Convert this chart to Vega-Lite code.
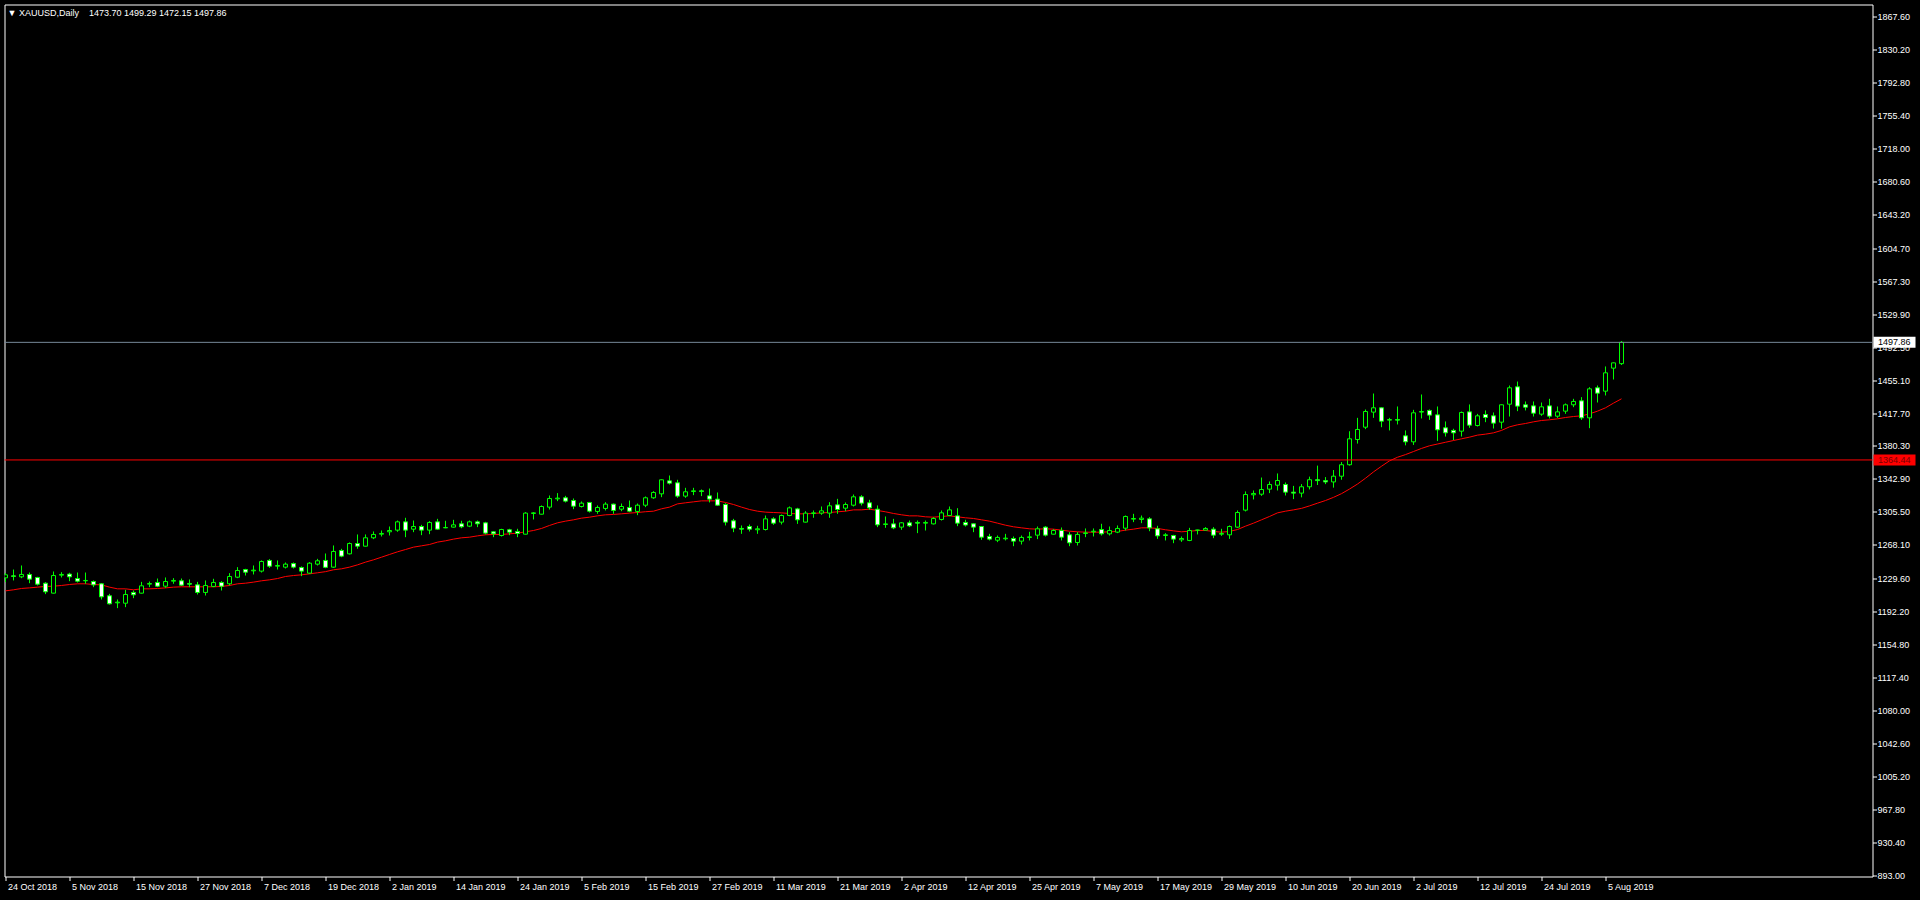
{
"$schema": "https://vega.github.io/schema/vega-lite/v6.json",
"width": 1868, "height": 872,
"autosize": {"type": "none"},
"padding": {"left": 4.5, "top": 4.5, "right": 47.5, "bottom": 23.5},
"background": "black",
"title": {"text": "▼\u00a0XAUUSD,Daily\u00a0\u00a0\u00a0\u00a01473.70 1499.29 1472.15 1497.86", "anchor": "start", "frame": "group", "orient": "top", "offset": -8, "dy": 9, "baseline": "middle", "dx": 3, "fontSize": 9, "fontWeight": "normal", "color": "white", "font": "Liberation Sans"},
"datasets": {
"levels": [{"name": "Bid", "price": 1497.86}, {"name": "Line", "price": 1364.44}],
"bars": [
{"date":"2018-10-24","idx":0,"open":1230.7,"high":1236.0,"low":1225.8,"close":1234.1,"ma":1215.9},
{"date":"2018-10-25","idx":1,"open":1232.9,"high":1240.1,"low":1227.7,"close":1232.3,"ma":1217.1},
{"date":"2018-10-26","idx":2,"open":1231.8,"high":1244.7,"low":1230.3,"close":1234.5,"ma":1218.6},
{"date":"2018-10-29","idx":3,"open":1234.5,"high":1236.7,"low":1224.6,"close":1229.2,"ma":1219.3},
{"date":"2018-10-30","idx":4,"open":1231.1,"high":1231.8,"low":1222.0,"close":1223.5,"ma":1220.1},
{"date":"2018-10-31","idx":5,"open":1224.6,"high":1225.8,"low":1212.2,"close":1214.8,"ma":1220.9},
{"date":"2018-11-01","idx":6,"open":1213.3,"high":1237.9,"low":1212.9,"close":1233.3,"ma":1221.2},
{"date":"2018-11-02","idx":7,"open":1233.7,"high":1237.1,"low":1231.1,"close":1234.5,"ma":1222.0},
{"date":"2018-11-05","idx":8,"open":1234.9,"high":1236.4,"low":1226.9,"close":1231.8,"ma":1223.1},
{"date":"2018-11-06","idx":9,"open":1229.9,"high":1236.7,"low":1225.4,"close":1226.9,"ma":1223.9},
{"date":"2018-11-07","idx":10,"open":1227.3,"high":1236.7,"low":1223.9,"close":1227.7,"ma":1223.9},
{"date":"2018-11-08","idx":11,"open":1226.5,"high":1227.7,"low":1220.1,"close":1222.7,"ma":1223.1},
{"date":"2018-11-09","idx":12,"open":1223.9,"high":1224.6,"low":1206.1,"close":1209.1,"ma":1222.7},
{"date":"2018-11-12","idx":13,"open":1210.3,"high":1212.5,"low":1200.4,"close":1201.2,"ma":1220.1},
{"date":"2018-11-13","idx":14,"open":1202.3,"high":1206.1,"low":1196.3,"close":1203.1,"ma":1218.2},
{"date":"2018-11-14","idx":15,"open":1201.9,"high":1217.1,"low":1197.4,"close":1211.8,"ma":1218.2},
{"date":"2018-11-15","idx":16,"open":1214.1,"high":1216.3,"low":1207.6,"close":1211.4,"ma":1217.1},
{"date":"2018-11-16","idx":17,"open":1213.3,"high":1226.1,"low":1212.9,"close":1221.6,"ma":1218.2},
{"date":"2018-11-19","idx":18,"open":1223.5,"high":1226.5,"low":1220.1,"close":1224.3,"ma":1218.2},
{"date":"2018-11-20","idx":19,"open":1225.4,"high":1229.9,"low":1220.1,"close":1221.2,"ma":1218.6},
{"date":"2018-11-21","idx":20,"open":1221.2,"high":1231.1,"low":1219.3,"close":1226.5,"ma":1219.3},
{"date":"2018-11-22","idx":21,"open":1226.9,"high":1230.3,"low":1223.9,"close":1227.7,"ma":1220.1},
{"date":"2018-11-23","idx":22,"open":1227.3,"high":1229.9,"low":1221.6,"close":1222.4,"ma":1220.5},
{"date":"2018-11-26","idx":23,"open":1224.3,"high":1228.8,"low":1220.1,"close":1223.5,"ma":1220.5},
{"date":"2018-11-27","idx":24,"open":1222.7,"high":1226.1,"low":1211.8,"close":1214.1,"ma":1220.5},
{"date":"2018-11-28","idx":25,"open":1214.1,"high":1227.7,"low":1210.6,"close":1222.0,"ma":1220.5},
{"date":"2018-11-29","idx":26,"open":1220.9,"high":1229.6,"low":1220.1,"close":1225.4,"ma":1220.5},
{"date":"2018-11-30","idx":27,"open":1225.4,"high":1226.9,"low":1216.3,"close":1221.2,"ma":1220.9},
{"date":"2018-12-03","idx":28,"open":1223.9,"high":1236.0,"low":1222.0,"close":1232.2,"ma":1222.0},
{"date":"2018-12-04","idx":29,"open":1231.4,"high":1242.8,"low":1230.3,"close":1239.0,"ma":1223.9},
{"date":"2018-12-05","idx":30,"open":1240.1,"high":1240.9,"low":1233.3,"close":1237.1,"ma":1224.6},
{"date":"2018-12-06","idx":31,"open":1238.6,"high":1244.7,"low":1234.5,"close":1239.4,"ma":1225.8},
{"date":"2018-12-07","idx":32,"open":1238.3,"high":1250.4,"low":1236.7,"close":1249.2,"ma":1227.3},
{"date":"2018-12-10","idx":33,"open":1250.4,"high":1251.9,"low":1242.0,"close":1243.9,"ma":1228.4},
{"date":"2018-12-11","idx":34,"open":1243.9,"high":1250.4,"low":1240.1,"close":1244.7,"ma":1229.9},
{"date":"2018-12-12","idx":35,"open":1242.8,"high":1248.1,"low":1241.3,"close":1246.2,"ma":1232.2},
{"date":"2018-12-13","idx":36,"open":1246.9,"high":1248.1,"low":1241.3,"close":1242.8,"ma":1233.3},
{"date":"2018-12-14","idx":37,"open":1242.4,"high":1243.6,"low":1232.6,"close":1238.3,"ma":1234.1},
{"date":"2018-12-17","idx":38,"open":1236.0,"high":1248.5,"low":1235.2,"close":1247.3,"ma":1235.2},
{"date":"2018-12-18","idx":39,"open":1246.2,"high":1252.2,"low":1244.7,"close":1250.0,"ma":1236.4},
{"date":"2018-12-19","idx":40,"open":1250.4,"high":1258.3,"low":1241.6,"close":1242.6,"ma":1237.7},
{"date":"2018-12-20","idx":41,"open":1242.8,"high":1267.4,"low":1242.0,"close":1260.6,"ma":1239.8},
{"date":"2018-12-21","idx":42,"open":1261.7,"high":1263.6,"low":1254.1,"close":1255.3,"ma":1240.9},
{"date":"2018-12-24","idx":43,"open":1257.9,"high":1270.8,"low":1257.2,"close":1269.6,"ma":1242.8},
{"date":"2018-12-26","idx":44,"open":1269.6,"high":1279.9,"low":1263.6,"close":1266.6,"ma":1245.4},
{"date":"2018-12-27","idx":45,"open":1266.6,"high":1279.9,"low":1266.2,"close":1276.1,"ma":1248.5},
{"date":"2018-12-28","idx":46,"open":1276.1,"high":1283.3,"low":1274.6,"close":1279.9,"ma":1251.1},
{"date":"2018-12-31","idx":47,"open":1280.2,"high":1284.4,"low":1277.6,"close":1281.0,"ma":1254.1},
{"date":"2019-01-02","idx":48,"open":1282.9,"high":1288.9,"low":1278.7,"close":1284.4,"ma":1257.2},
{"date":"2019-01-03","idx":49,"open":1284.8,"high":1295.7,"low":1282.9,"close":1294.2,"ma":1260.2},
{"date":"2019-01-04","idx":50,"open":1294.2,"high":1298.8,"low":1276.8,"close":1284.8,"ma":1262.8},
{"date":"2019-01-07","idx":51,"open":1285.9,"high":1295.7,"low":1282.5,"close":1288.9,"ma":1265.5},
{"date":"2019-01-08","idx":52,"open":1288.9,"high":1290.8,"low":1279.1,"close":1284.8,"ma":1267.0},
{"date":"2019-01-09","idx":53,"open":1284.8,"high":1295.0,"low":1280.2,"close":1293.5,"ma":1268.5},
{"date":"2019-01-10","idx":54,"open":1294.2,"high":1297.6,"low":1285.2,"close":1285.9,"ma":1271.2},
{"date":"2019-01-11","idx":55,"open":1287.4,"high":1295.4,"low":1287.0,"close":1287.8,"ma":1272.7},
{"date":"2019-01-14","idx":56,"open":1288.2,"high":1296.5,"low":1287.8,"close":1290.8,"ma":1274.6},
{"date":"2019-01-15","idx":57,"open":1292.0,"high":1295.4,"low":1287.0,"close":1288.6,"ma":1276.1},
{"date":"2019-01-16","idx":58,"open":1289.3,"high":1295.7,"low":1288.2,"close":1294.2,"ma":1276.8},
{"date":"2019-01-17","idx":59,"open":1294.2,"high":1295.7,"low":1288.2,"close":1292.0,"ma":1278.3},
{"date":"2019-01-18","idx":60,"open":1293.1,"high":1294.2,"low":1279.9,"close":1281.4,"ma":1279.5},
{"date":"2019-01-21","idx":61,"open":1282.9,"high":1283.6,"low":1276.8,"close":1280.6,"ma":1279.9},
{"date":"2019-01-22","idx":62,"open":1278.7,"high":1286.3,"low":1277.6,"close":1285.5,"ma":1279.9},
{"date":"2019-01-23","idx":63,"open":1285.2,"high":1286.3,"low":1279.1,"close":1282.5,"ma":1280.6},
{"date":"2019-01-24","idx":64,"open":1283.3,"high":1286.3,"low":1276.8,"close":1281.0,"ma":1281.4},
{"date":"2019-01-25","idx":65,"open":1280.2,"high":1305.2,"low":1279.9,"close":1304.1,"ma":1282.9},
{"date":"2019-01-28","idx":66,"open":1303.7,"high":1305.2,"low":1296.9,"close":1304.4,"ma":1284.4},
{"date":"2019-01-29","idx":67,"open":1302.9,"high":1312.8,"low":1302.6,"close":1311.6,"ma":1286.7},
{"date":"2019-01-30","idx":68,"open":1310.9,"high":1324.1,"low":1308.2,"close":1320.7,"ma":1290.1},
{"date":"2019-01-31","idx":69,"open":1320.3,"high":1326.8,"low":1317.7,"close":1321.1,"ma":1293.1},
{"date":"2019-02-01","idx":70,"open":1321.5,"high":1323.7,"low":1316.2,"close":1317.7,"ma":1295.0},
{"date":"2019-02-04","idx":71,"open":1318.4,"high":1320.7,"low":1308.6,"close":1312.0,"ma":1296.5},
{"date":"2019-02-05","idx":72,"open":1311.6,"high":1317.3,"low":1310.5,"close":1315.4,"ma":1298.4},
{"date":"2019-02-06","idx":73,"open":1316.2,"high":1316.5,"low":1304.8,"close":1306.3,"ma":1299.5},
{"date":"2019-02-07","idx":74,"open":1306.0,"high":1312.8,"low":1303.3,"close":1310.5,"ma":1301.0},
{"date":"2019-02-08","idx":75,"open":1309.4,"high":1316.5,"low":1307.1,"close":1314.3,"ma":1302.2},
{"date":"2019-02-11","idx":76,"open":1314.3,"high":1315.0,"low":1303.3,"close":1307.1,"ma":1302.6},
{"date":"2019-02-12","idx":77,"open":1308.6,"high":1315.0,"low":1306.3,"close":1311.6,"ma":1303.3},
{"date":"2019-02-13","idx":78,"open":1310.5,"high":1318.4,"low":1305.2,"close":1306.3,"ma":1304.1},
{"date":"2019-02-14","idx":79,"open":1306.0,"high":1315.0,"low":1301.8,"close":1313.1,"ma":1304.8},
{"date":"2019-02-15","idx":80,"open":1313.1,"high":1323.0,"low":1310.9,"close":1321.5,"ma":1305.7},
{"date":"2019-02-18","idx":81,"open":1321.5,"high":1329.0,"low":1320.3,"close":1327.5,"ma":1306.3},
{"date":"2019-02-19","idx":82,"open":1326.0,"high":1342.3,"low":1322.2,"close":1341.9,"ma":1309.0},
{"date":"2019-02-20","idx":83,"open":1340.7,"high":1346.8,"low":1336.6,"close":1338.1,"ma":1310.9},
{"date":"2019-02-21","idx":84,"open":1338.5,"high":1341.9,"low":1321.5,"close":1323.4,"ma":1314.6},
{"date":"2019-02-22","idx":85,"open":1323.4,"high":1332.8,"low":1321.5,"close":1328.3,"ma":1315.8},
{"date":"2019-02-25","idx":86,"open":1328.6,"high":1332.8,"low":1324.5,"close":1329.4,"ma":1316.9},
{"date":"2019-02-26","idx":87,"open":1329.4,"high":1330.9,"low":1323.4,"close":1328.6,"ma":1318.0},
{"date":"2019-02-27","idx":88,"open":1323.7,"high":1332.0,"low":1316.2,"close":1320.0,"ma":1318.0},
{"date":"2019-02-28","idx":89,"open":1320.0,"high":1327.5,"low":1312.4,"close":1313.1,"ma":1318.0},
{"date":"2019-03-01","idx":90,"open":1313.9,"high":1315.4,"low":1290.1,"close":1293.9,"ma":1316.2},
{"date":"2019-03-04","idx":91,"open":1295.4,"high":1297.6,"low":1282.5,"close":1287.1,"ma":1313.9},
{"date":"2019-03-05","idx":92,"open":1286.7,"high":1290.1,"low":1280.6,"close":1285.9,"ma":1310.9},
{"date":"2019-03-06","idx":93,"open":1288.9,"high":1291.2,"low":1283.3,"close":1285.9,"ma":1308.2},
{"date":"2019-03-07","idx":94,"open":1285.2,"high":1289.7,"low":1280.6,"close":1286.3,"ma":1306.3},
{"date":"2019-03-08","idx":95,"open":1285.5,"high":1301.4,"low":1284.4,"close":1297.6,"ma":1305.2},
{"date":"2019-03-11","idx":96,"open":1297.6,"high":1299.5,"low":1290.8,"close":1292.7,"ma":1304.8},
{"date":"2019-03-12","idx":97,"open":1293.9,"high":1302.5,"low":1291.2,"close":1301.4,"ma":1304.4},
{"date":"2019-03-13","idx":98,"open":1301.4,"high":1311.6,"low":1300.6,"close":1310.1,"ma":1303.7},
{"date":"2019-03-14","idx":99,"open":1308.9,"high":1310.1,"low":1291.9,"close":1296.5,"ma":1303.3},
{"date":"2019-03-15","idx":100,"open":1293.9,"high":1306.3,"low":1293.5,"close":1304.1,"ma":1303.3},
{"date":"2019-03-18","idx":101,"open":1303.7,"high":1307.1,"low":1298.8,"close":1304.4,"ma":1303.7},
{"date":"2019-03-19","idx":102,"open":1304.1,"high":1311.6,"low":1302.2,"close":1306.7,"ma":1304.4},
{"date":"2019-03-20","idx":103,"open":1304.1,"high":1316.5,"low":1298.8,"close":1312.4,"ma":1304.8},
{"date":"2019-03-21","idx":104,"open":1313.5,"high":1320.3,"low":1303.3,"close":1308.2,"ma":1305.6},
{"date":"2019-03-22","idx":105,"open":1309.7,"high":1316.2,"low":1306.3,"close":1313.9,"ma":1306.3},
{"date":"2019-03-25","idx":106,"open":1313.1,"high":1325.2,"low":1311.6,"close":1322.6,"ma":1307.8},
{"date":"2019-03-26","idx":107,"open":1322.6,"high":1324.5,"low":1312.8,"close":1315.4,"ma":1307.8},
{"date":"2019-03-27","idx":108,"open":1315.8,"high":1319.2,"low":1307.8,"close":1310.1,"ma":1308.6},
{"date":"2019-03-28","idx":109,"open":1308.6,"high":1312.8,"low":1288.2,"close":1290.8,"ma":1307.1},
{"date":"2019-03-29","idx":110,"open":1291.2,"high":1300.3,"low":1287.4,"close":1291.9,"ma":1305.6},
{"date":"2019-04-01","idx":111,"open":1291.9,"high":1297.6,"low":1285.9,"close":1287.4,"ma":1303.7},
{"date":"2019-04-02","idx":112,"open":1288.2,"high":1293.9,"low":1285.2,"close":1293.1,"ma":1302.2},
{"date":"2019-04-03","idx":113,"open":1293.1,"high":1295.7,"low":1288.2,"close":1289.7,"ma":1301.0},
{"date":"2019-04-04","idx":114,"open":1293.5,"high":1295.7,"low":1281.4,"close":1292.7,"ma":1301.0},
{"date":"2019-04-05","idx":115,"open":1292.7,"high":1295.7,"low":1284.4,"close":1293.5,"ma":1299.9},
{"date":"2019-04-08","idx":116,"open":1291.9,"high":1299.5,"low":1291.2,"close":1298.0,"ma":1299.5},
{"date":"2019-04-09","idx":117,"open":1296.9,"high":1307.1,"low":1295.7,"close":1304.4,"ma":1300.3},
{"date":"2019-04-10","idx":118,"open":1301.4,"high":1311.6,"low":1300.6,"close":1307.8,"ma":1301.0},
{"date":"2019-04-11","idx":119,"open":1301.0,"high":1309.7,"low":1289.3,"close":1292.7,"ma":1299.9},
{"date":"2019-04-12","idx":120,"open":1293.5,"high":1296.5,"low":1288.9,"close":1290.6,"ma":1298.8},
{"date":"2019-04-15","idx":121,"open":1292.0,"high":1292.4,"low":1282.5,"close":1288.2,"ma":1298.0},
{"date":"2019-04-16","idx":122,"open":1288.9,"high":1289.3,"low":1273.8,"close":1276.8,"ma":1296.5},
{"date":"2019-04-17","idx":123,"open":1277.6,"high":1280.6,"low":1273.1,"close":1274.6,"ma":1295.0},
{"date":"2019-04-18","idx":124,"open":1273.4,"high":1278.7,"low":1271.2,"close":1276.5,"ma":1292.7},
{"date":"2019-04-22","idx":125,"open":1275.0,"high":1280.6,"low":1273.1,"close":1275.7,"ma":1290.4},
{"date":"2019-04-23","idx":126,"open":1275.3,"high":1277.6,"low":1266.6,"close":1272.3,"ma":1288.6},
{"date":"2019-04-24","idx":127,"open":1272.3,"high":1278.7,"low":1268.5,"close":1276.5,"ma":1287.4},
{"date":"2019-04-25","idx":128,"open":1276.5,"high":1282.9,"low":1273.1,"close":1277.2,"ma":1286.3},
{"date":"2019-04-26","idx":129,"open":1279.1,"high":1288.9,"low":1274.6,"close":1286.3,"ma":1285.9},
{"date":"2019-04-29","idx":130,"open":1288.2,"high":1289.3,"low":1277.6,"close":1279.1,"ma":1286.3},
{"date":"2019-04-30","idx":131,"open":1280.2,"high":1285.9,"low":1279.9,"close":1284.4,"ma":1285.9},
{"date":"2019-05-01","idx":132,"open":1284.4,"high":1287.8,"low":1273.1,"close":1276.8,"ma":1284.8},
{"date":"2019-05-02","idx":133,"open":1279.5,"high":1282.5,"low":1266.6,"close":1270.4,"ma":1283.6},
{"date":"2019-05-03","idx":134,"open":1270.8,"high":1282.5,"low":1267.4,"close":1279.9,"ma":1282.9},
{"date":"2019-05-06","idx":135,"open":1281.0,"high":1286.7,"low":1276.8,"close":1281.7,"ma":1282.5},
{"date":"2019-05-07","idx":136,"open":1282.9,"high":1286.7,"low":1277.6,"close":1283.6,"ma":1282.5},
{"date":"2019-05-08","idx":137,"open":1285.5,"high":1292.0,"low":1278.7,"close":1280.6,"ma":1282.5},
{"date":"2019-05-09","idx":138,"open":1280.6,"high":1288.9,"low":1278.7,"close":1284.4,"ma":1282.9},
{"date":"2019-05-10","idx":139,"open":1282.5,"high":1290.1,"low":1281.4,"close":1286.7,"ma":1283.3},
{"date":"2019-05-13","idx":140,"open":1287.0,"high":1301.4,"low":1284.4,"close":1300.3,"ma":1284.8},
{"date":"2019-05-14","idx":141,"open":1297.3,"high":1303.3,"low":1293.9,"close":1298.0,"ma":1285.9},
{"date":"2019-05-15","idx":142,"open":1296.9,"high":1301.4,"low":1292.7,"close":1298.4,"ma":1287.4},
{"date":"2019-05-16","idx":143,"open":1297.6,"high":1299.5,"low":1283.6,"close":1287.4,"ma":1287.4},
{"date":"2019-05-17","idx":144,"open":1286.3,"high":1289.7,"low":1274.9,"close":1278.3,"ma":1286.7},
{"date":"2019-05-20","idx":145,"open":1278.7,"high":1281.4,"low":1273.1,"close":1279.5,"ma":1285.2},
{"date":"2019-05-21","idx":146,"open":1278.7,"high":1279.5,"low":1270.0,"close":1274.6,"ma":1284.0},
{"date":"2019-05-22","idx":147,"open":1273.8,"high":1277.6,"low":1271.5,"close":1275.3,"ma":1282.9},
{"date":"2019-05-23","idx":148,"open":1273.1,"high":1287.4,"low":1272.3,"close":1284.4,"ma":1283.6},
{"date":"2019-05-24","idx":149,"open":1284.8,"high":1285.2,"low":1279.9,"close":1284.8,"ma":1284.4},
{"date":"2019-05-27","idx":150,"open":1284.8,"high":1288.2,"low":1284.4,"close":1286.7,"ma":1284.4},
{"date":"2019-05-28","idx":151,"open":1285.9,"high":1288.2,"low":1275.7,"close":1279.1,"ma":1283.3},
{"date":"2019-05-29","idx":152,"open":1280.2,"high":1286.3,"low":1278.3,"close":1281.0,"ma":1282.5},
{"date":"2019-05-30","idx":153,"open":1279.5,"high":1290.1,"low":1274.9,"close":1288.9,"ma":1283.3},
{"date":"2019-05-31","idx":154,"open":1288.2,"high":1307.1,"low":1287.4,"close":1304.8,"ma":1285.5},
{"date":"2019-06-03","idx":155,"open":1307.5,"high":1328.7,"low":1306.0,"close":1325.2,"ma":1289.3},
{"date":"2019-06-04","idx":156,"open":1324.9,"high":1329.8,"low":1319.6,"close":1326.4,"ma":1292.7},
{"date":"2019-06-05","idx":157,"open":1325.6,"high":1344.5,"low":1323.7,"close":1330.9,"ma":1296.5},
{"date":"2019-06-06","idx":158,"open":1331.3,"high":1340.0,"low":1326.8,"close":1336.6,"ma":1300.3},
{"date":"2019-06-07","idx":159,"open":1335.8,"high":1349.1,"low":1329.8,"close":1341.1,"ma":1304.4},
{"date":"2019-06-10","idx":160,"open":1336.6,"high":1338.9,"low":1324.1,"close":1327.9,"ma":1306.3},
{"date":"2019-06-11","idx":161,"open":1327.9,"high":1335.0,"low":1320.0,"close":1326.8,"ma":1307.8},
{"date":"2019-06-12","idx":162,"open":1326.8,"high":1337.0,"low":1322.0,"close":1334.0,"ma":1309.5},
{"date":"2019-06-13","idx":163,"open":1334.0,"high":1345.5,"low":1331.0,"close":1342.0,"ma":1312.3},
{"date":"2019-06-14","idx":164,"open":1342.0,"high":1358.0,"low":1336.0,"close":1341.0,"ma":1315.4},
{"date":"2019-06-17","idx":165,"open":1341.0,"high":1345.0,"low":1337.0,"close":1339.5,"ma":1318.4},
{"date":"2019-06-18","idx":166,"open":1339.5,"high":1353.0,"low":1333.0,"close":1346.0,"ma":1322.0},
{"date":"2019-06-19","idx":167,"open":1346.0,"high":1362.0,"low":1342.0,"close":1359.0,"ma":1326.2},
{"date":"2019-06-20","idx":168,"open":1359.0,"high":1397.0,"low":1358.0,"close":1388.4,"ma":1331.4},
{"date":"2019-06-21","idx":169,"open":1387.6,"high":1412.2,"low":1383.0,"close":1399.0,"ma":1337.1},
{"date":"2019-06-24","idx":170,"open":1401.6,"high":1421.7,"low":1399.4,"close":1419.4,"ma":1343.7},
{"date":"2019-06-25","idx":171,"open":1418.7,"high":1439.8,"low":1412.2,"close":1423.6,"ma":1350.9},
{"date":"2019-06-26","idx":172,"open":1423.6,"high":1424.0,"low":1401.6,"close":1408.4,"ma":1357.3},
{"date":"2019-06-27","idx":173,"open":1409.6,"high":1412.2,"low":1397.9,"close":1410.3,"ma":1363.4},
{"date":"2019-06-28","idx":174,"open":1410.3,"high":1425.1,"low":1404.7,"close":1409.6,"ma":1367.5},
{"date":"2019-07-01","idx":175,"open":1391.8,"high":1397.9,"low":1381.0,"close":1385.0,"ma":1370.5},
{"date":"2019-07-02","idx":176,"open":1385.0,"high":1421.3,"low":1381.5,"close":1417.9,"ma":1374.0},
{"date":"2019-07-03","idx":177,"open":1418.7,"high":1438.7,"low":1411.5,"close":1419.4,"ma":1377.5},
{"date":"2019-07-04","idx":178,"open":1420.6,"high":1421.7,"low":1409.9,"close":1415.3,"ma":1380.5},
{"date":"2019-07-05","idx":179,"open":1415.6,"high":1425.1,"low":1386.0,"close":1398.6,"ma":1382.5},
{"date":"2019-07-08","idx":180,"open":1400.9,"high":1408.1,"low":1391.0,"close":1395.2,"ma":1384.5},
{"date":"2019-07-09","idx":181,"open":1397.9,"high":1399.8,"low":1387.0,"close":1395.2,"ma":1386.5},
{"date":"2019-07-10","idx":182,"open":1397.1,"high":1419.4,"low":1391.0,"close":1418.3,"ma":1388.4},
{"date":"2019-07-11","idx":183,"open":1419.0,"high":1427.4,"low":1400.9,"close":1403.9,"ma":1390.3},
{"date":"2019-07-12","idx":184,"open":1403.5,"high":1416.7,"low":1402.4,"close":1414.5,"ma":1392.6},
{"date":"2019-07-15","idx":185,"open":1416.0,"high":1420.6,"low":1407.3,"close":1412.6,"ma":1393.7},
{"date":"2019-07-16","idx":186,"open":1414.5,"high":1418.3,"low":1400.1,"close":1406.2,"ma":1395.2},
{"date":"2019-07-17","idx":187,"open":1407.3,"high":1427.4,"low":1400.0,"close":1427.0,"ma":1397.9},
{"date":"2019-07-18","idx":188,"open":1427.7,"high":1448.9,"low":1413.7,"close":1446.3,"ma":1402.0},
{"date":"2019-07-19","idx":189,"open":1447.4,"high":1453.4,"low":1419.8,"close":1425.5,"ma":1404.3},
{"date":"2019-07-22","idx":190,"open":1427.0,"high":1430.8,"low":1420.6,"close":1424.3,"ma":1405.8},
{"date":"2019-07-23","idx":191,"open":1425.8,"high":1430.8,"low":1413.7,"close":1417.5,"ma":1407.7},
{"date":"2019-07-24","idx":192,"open":1416.4,"high":1429.6,"low":1414.5,"close":1424.7,"ma":1409.2},
{"date":"2019-07-25","idx":193,"open":1425.8,"high":1433.8,"low":1411.5,"close":1414.1,"ma":1410.0},
{"date":"2019-07-26","idx":194,"open":1414.1,"high":1425.1,"low":1412.2,"close":1419.0,"ma":1411.1},
{"date":"2019-07-29","idx":195,"open":1419.8,"high":1428.5,"low":1416.8,"close":1427.0,"ma":1412.6},
{"date":"2019-07-30","idx":196,"open":1427.0,"high":1433.8,"low":1424.3,"close":1430.8,"ma":1413.7},
{"date":"2019-07-31","idx":197,"open":1431.5,"high":1435.7,"low":1409.9,"close":1412.2,"ma":1414.5},
{"date":"2019-08-01","idx":198,"open":1412.2,"high":1447.0,"low":1400.5,"close":1445.1,"ma":1416.7},
{"date":"2019-08-02","idx":199,"open":1446.3,"high":1448.9,"low":1429.6,"close":1440.2,"ma":1419.8},
{"date":"2019-08-05","idx":200,"open":1442.5,"high":1470.5,"low":1437.6,"close":1463.3,"ma":1423.6},
{"date":"2019-08-06","idx":201,"open":1468.6,"high":1475.0,"low":1455.7,"close":1474.6,"ma":1428.9},
{"date":"2019-08-07","idx":202,"open":1473.70,"high":1499.29,"low":1472.15,"close":1497.86,"ma":1433.8}
]},
"layer": [
{"data": {"name": "bars"},
 "mark": {"type": "line", "color": "#ff0000", "strokeWidth": 1, "clip": true},
 "encoding": {
  "x": {"field": "idx", "type": "quantitative", "title": null,
   "scale": {"domain": [-0.125, 233.375], "nice": false, "zero": false, "padding": 0},
   "axis": {"values": [0,8,16,24,32,40,48,56,64,72,80,88,96,104,112,120,128,136,144,152,160,168,176,184,192,200],
    "labelExpr": "['24 Oct 2018','5 Nov 2018','15 Nov 2018','27 Nov 2018','7 Dec 2018','19 Dec 2018','2 Jan 2019','14 Jan 2019','24 Jan 2019','5 Feb 2019','15 Feb 2019','27 Feb 2019','11 Mar 2019','21 Mar 2019','2 Apr 2019','12 Apr 2019','25 Apr 2019','7 May 2019','17 May 2019','29 May 2019','10 Jun 2019','20 Jun 2019','2 Jul 2019','12 Jul 2019','24 Jul 2019','5 Aug 2019'][datum.value / 8]",
    "labelAlign": "left", "labelOffset": 2, "labelPadding": 2, "labelBaseline": "top", "tickCount": 100,
    "tickSize": 4, "title": null, "grid": false, "domain": false, "labelOverlap": false, "labelFlush": false}},
  "y": {"field": "ma", "type": "quantitative", "title": null,
   "scale": {"domain": [891.8, 1881.2], "nice": false, "zero": false, "padding": 0},
   "axis": {"orient": "right", "values": [893,930.4,967.8,1005.2,1042.6,1080,1117.4,1154.8,1192.2,1229.6,1268.1,1305.5,1342.9,1380.3,1417.7,1455.1,1492.5,1529.9,1567.3,1604.7,1643.2,1680.6,1718,1755.4,1792.8,1830.2,1867.6],
    "tickCount": 100,
    "format": ".2f", "labelBaseline": "middle", "labelPadding": 0.5, "tickSize": 4, "title": null, "grid": false, "domain": false, "labelOverlap": false, "labelFlush": false}}
 }},
{"data": {"name": "bars"},
 "mark": {"type": "rule", "color": "#00ff00", "strokeWidth": 1, "clip": true},
 "encoding": {
  "x": {"field": "idx", "type": "quantitative", "title": null, "scale": {"domain": [-0.125, 233.375], "nice": false, "zero": false, "padding": 0}},
  "y": {"field": "low", "type": "quantitative", "title": null, "scale": {"domain": [891.8, 1881.2], "nice": false, "zero": false, "padding": 0}},
  "y2": {"field": "high"}
 }},
{"data": {"name": "bars"},
 "mark": {"type": "bar", "width": 4, "stroke": "#00ff00", "strokeWidth": 1, "clip": true},
 "encoding": {
  "x": {"field": "idx", "type": "quantitative", "title": null, "scale": {"domain": [-0.125, 233.375], "nice": false, "zero": false, "padding": 0}},
  "y": {"field": "open", "type": "quantitative", "title": null, "scale": {"domain": [891.8, 1881.2], "nice": false, "zero": false, "padding": 0}},
  "y2": {"field": "close"},
  "fill": {"condition": {"test": "datum.close < datum.open", "value": "#ffffff"}, "value": "#000000"}
 }},
{"data": {"name": "levels"},
 "mark": {"type": "rule", "strokeWidth": 1},
 "encoding": {
  "y": {"field": "price", "type": "quantitative", "title": null, "scale": {"domain": [891.8, 1881.2], "nice": false, "zero": false, "padding": 0}},
  "color": {"condition": {"test": "datum.name === 'Bid'", "value": "#778899"}, "value": "#ff0000"}
 }},
{"data": {"name": "levels"},
 "mark": {"type": "rect", "yOffset": -5.5, "y2Offset": 5.5},
 "encoding": {
  "x": {"value": {"expr": "width + 1"}},
  "x2": {"value": {"expr": "width + 43"}},
  "y": {"field": "price", "type": "quantitative", "title": null, "scale": {"domain": [891.8, 1881.2], "nice": false, "zero": false, "padding": 0}},
  "y2": {"field": "price"},
  "fill": {"condition": {"test": "datum.name === 'Bid'", "value": "#ffffff"}, "value": "#ff0000"}
 }},
{"data": {"name": "levels"},
 "mark": {"type": "text", "align": "left", "baseline": "middle", "font": "Liberation Sans", "fontSize": 9},
 "encoding": {
  "x": {"value": {"expr": "width + 5.5"}},
  "y": {"field": "price", "type": "quantitative", "title": null, "scale": {"domain": [891.8, 1881.2], "nice": false, "zero": false, "padding": 0}},
  "text": {"field": "price", "type": "quantitative", "format": ".2f"},
  "color": {"condition": {"test": "datum.name === 'Bid'", "value": "#000000"}, "value": "#7a0000"}
 }}
],
"config": {
 "view": {"stroke": "#ffffff", "strokeWidth": 1, "fill": "#000000"},
 "axis": {"labelColor": "#ffffff", "tickColor": "#ffffff", "labelFont": "Liberation Sans", "labelFontSize": 9, "tickWidth": 1, "labelOverlap": false}
}
}
